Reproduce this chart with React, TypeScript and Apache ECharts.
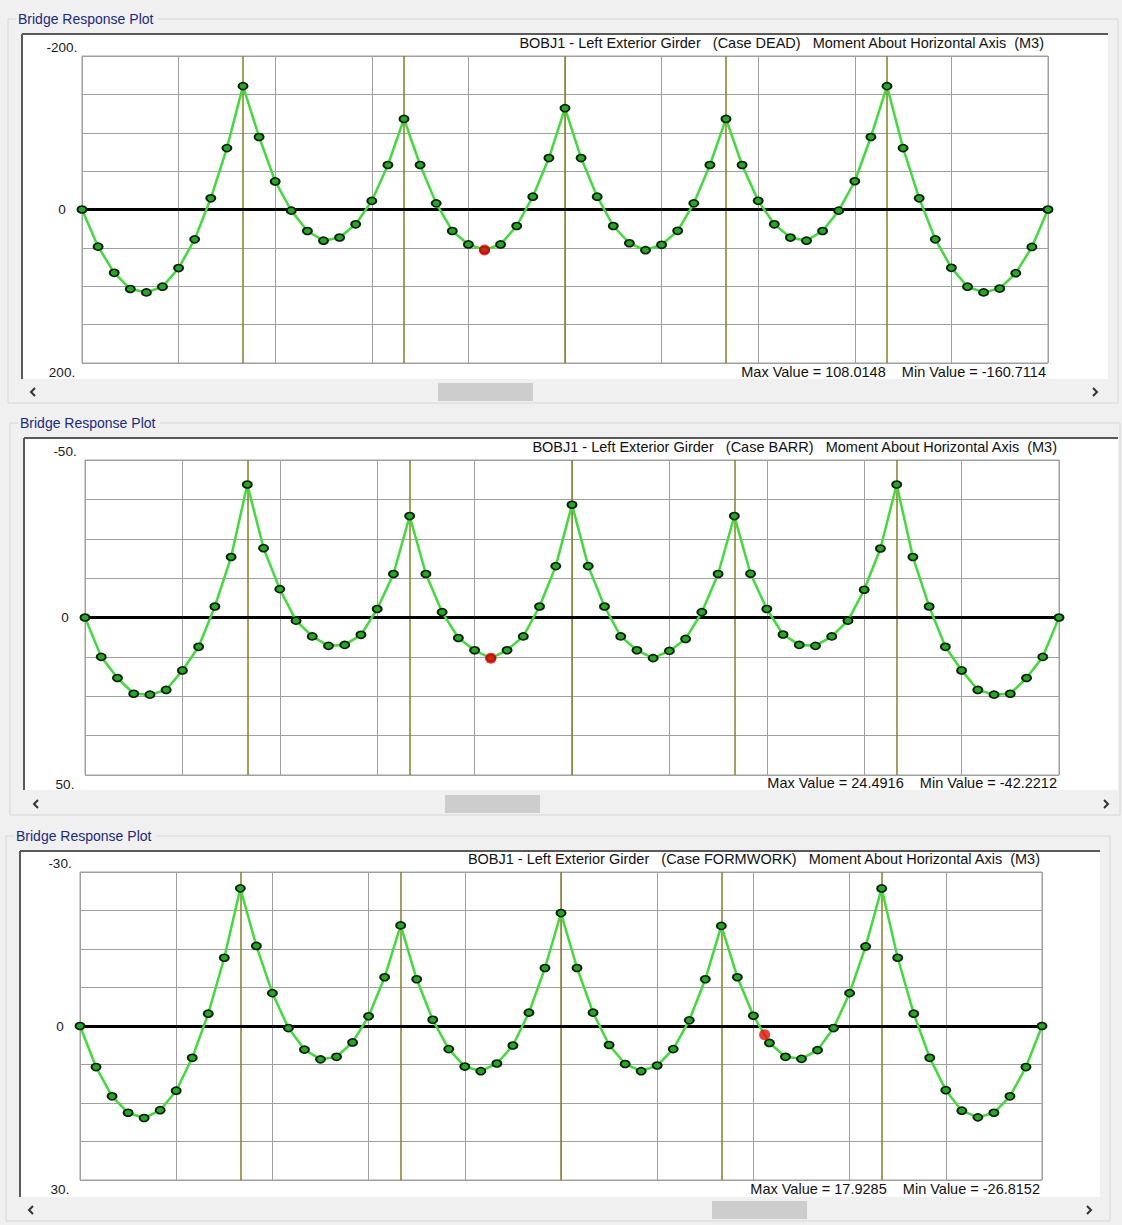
import React, { useEffect, useRef } from "react";
import * as echarts from "echarts";

// ---------- DATA ----------
// stations along girder: 6 spans x 10 segments = 61 output stations (index 0..60)
const supportStations = [10, 20, 30, 40, 50];

const deadMoment = [
  0, 48.4, 82.5, 103.6, 108.0148, 100.6, 76.3, 38.9, -14.6, -80, -160.7114,
  -94.5, -36.6, 1.5, 28, 40.6, 36.5, 19.3, -11.2, -58, -118,
  -58, -8, 28, 45.5, 52.8, 45.5, 21.5, -16.7, -67, -132,
  -67, -16.7, 21.5, 44, 53, 46, 27.8, -8, -58, -118,
  -58, -11.3, 19.3, 36.6, 40.6, 28, 1.5, -36.8, -94.5, -160.7114,
  -80, -14.6, 38.9, 76, 100.6, 108.0, 103, 83, 48.8, 0,
];

const barrMoment = [
  0, 12.5, 19.2, 24.2, 24.4916, 23.0, 16.8, 9.3, -3.5, -19.2, -42.2212,
  -22, -9, 1.0, 6.0, 9.0, 8.7, 5.5, -2.7, -13.8, -32.2,
  -13.8, -1.7, 6.5, 10.4, 12.9, 10.4, 6.0, -3.5, -16.3, -35.8,
  -16.3, -3.5, 6.0, 10.4, 12.9, 10.6, 6.8, -1.7, -13.8, -32.2,
  -13.9, -2.7, 5.4, 8.7, 9.0, 6.0, 1.0, -8.8, -21.9, -42.2212,
  -19.2, -3.5, 9.3, 16.8, 23.0, 24.49, 24.2, 19.2, 12.5, 0,
];

const formworkMoment = [
  0, 8.0, 13.7, 16.9, 17.9285, 16.4, 12.6, 6.2, -2.4, -13.3, -26.8152,
  -15.6, -6.4, 0.4, 4.6, 6.5, 6.0, 3.2, -1.9, -9.5, -19.6,
  -9.1, -1.2, 4.5, 7.9, 8.8, 7.3, 3.8, -2.6, -11.3, -22.0,
  -11.3, -2.6, 3.7, 7.4, 8.8, 7.7, 4.5, -1.1, -9.1, -19.5,
  -9.5, -2.0, 3.3, 6.0, 6.4, 4.7, 0.4, -6.4, -15.5, -26.8,
  -13.3, -2.4, 6.2, 12.5, 16.5, 17.8, 16.9, 13.7, 8.0, 0,
];

const panelValues = [deadMoment, barrMoment, formworkMoment];

const yLimits = [200, 50, 30];
const yTickLabels = [
  ["-200.", "0", "200."],
  ["-50.", "0", "50."],
  ["-30.", "0", "30."],
];

const panelTitles = [
  "BOBJ1 - Left Exterior Girder \u00a0 (Case DEAD) \u00a0 Moment About Horizontal Axis \u00a0(M3)",
  "BOBJ1 - Left Exterior Girder \u00a0 (Case BARR) \u00a0 Moment About Horizontal Axis \u00a0(M3)",
  "BOBJ1 - Left Exterior Girder \u00a0 (Case FORMWORK) \u00a0 Moment About Horizontal Axis \u00a0(M3)",
];

const panelFooters = [
  "Max Value = 108.0148 \u00a0 \u00a0Min Value = -160.7114",
  "Max Value = 24.4916 \u00a0 \u00a0Min Value = -42.2212",
  "Max Value = 17.9285 \u00a0 \u00a0Min Value = -26.8152",
];

const groupLabel = "Bridge Response Plot";

// red cursor markers
const markerStations = [25, 25, 42.7];
const markerValues = [52.8, 12.9, 1.7];

// ---------- LAYOUT ----------
const W = 1122;
const H = 1225;
const FONT = '"Liberation Sans", Arial, sans-serif';

const layouts = [
  {
    left: 82, top: 56, width: 966, height: 307,
    frameX: 22, frameY: 34, frameR: 1108, frameB: 379,
    labelX: 18, labelY: 19, boxL: 8, boxR: 1118,
    scrollY: 381, thumbX: 438, arrowL: 32, arrowR: 1096,
    titleY: 43, footY: 372, titleRight: 1044, footRight: 1046,
  },
  {
    left: 85, top: 460, width: 974, height: 315,
    frameX: 24, frameY: 438, frameR: 1118, frameB: 790,
    labelX: 20, labelY: 423, boxL: 10, boxR: 1120,
    scrollY: 793, thumbX: 445, arrowL: 35, arrowR: 1107,
    titleY: 447, footY: 783, titleRight: 1057, footRight: 1057,
  },
  {
    left: 80, top: 872, width: 962, height: 308,
    frameX: 20, frameY: 851, frameR: 1100, frameB: 1197,
    labelX: 16, labelY: 836, boxL: 6, boxR: 1110,
    scrollY: 1199, thumbX: 712, arrowL: 30, arrowR: 1090,
    titleY: 859, footY: 1189, titleRight: 1040, footRight: 1040,
  },
];

function buildOption() {
  const grid = layouts.map((l) => ({
    left: l.left,
    top: l.top,
    width: l.width,
    height: l.height,
    show: false,
    containLabel: false,
  }));

  const xAxis = layouts.map((_, i) => ({
    gridIndex: i,
    type: "value",
    min: 0,
    max: 60,
    interval: 6,
    axisLabel: { show: false },
    axisTick: { show: false },
    axisLine: { show: false },
    splitLine: { show: true, lineStyle: { color: "#a0a0a0", width: 1 } },
  }));

  const yAxis = layouts.map((_, i) => {
    const lim = yLimits[i];
    const labels = yTickLabels[i];
    const base = { fontSize: 13.5, color: "#1a1a1a", fontFamily: FONT, align: "center" };
    return {
      gridIndex: i,
      type: "value",
      inverse: true,
      min: -lim,
      max: lim,
      interval: lim / 4,
      axisLine: { show: false },
      axisTick: { show: false },
      splitLine: { show: true, lineStyle: { color: "#a0a0a0", width: 1 } },
      axisLabel: {
        show: true,
        showMinLabel: true,
        showMaxLabel: true,
        margin: 20,
        align: "center",
        fontSize: 13.5,
        color: "#1a1a1a",
        fontFamily: FONT,
        formatter: (v: number) => {
          if (v === -lim) return `{top|${labels[0]}}`;
          if (v === 0) return `{mid|${labels[1]}}`;
          if (v === lim) return `{bot|${labels[2]}}`;
          return "";
        },
        rich: {
          top: { ...base, padding: [0, 0, 18, 0] },
          mid: { ...base },
          bot: { ...base, padding: [18, 0, 0, 0] },
        },
      },
    };
  });

  const series: any[] = [];
  panelValues.forEach((vals, i) => {
    series.push({
      type: "line",
      xAxisIndex: i,
      yAxisIndex: i,
      data: vals.map((v, k) => [k, v]),
      z: 3,
      silent: true,
      symbol: "circle",
      symbolSize: [9, 7],
      showAllSymbol: true,
      lineStyle: { color: "#3fdc3a", width: 2.5 },
      itemStyle: { color: "#26a826", borderColor: "#072207", borderWidth: 1.8 },
      markLine: {
        silent: true,
        z: 1,
        symbol: ["none", "none"],
        label: { show: false },
        animation: false,
        data: [
          ...supportStations.map((s) => ({
            xAxis: s,
            lineStyle: { color: "#878020", width: 1.5, type: "solid" },
          })),
          { yAxis: 0, lineStyle: { color: "#000", width: 3, type: "solid" } },
        ],
      },
    });
    series.push({
      type: "scatter",
      xAxisIndex: i,
      yAxisIndex: i,
      z: 4,
      silent: true,
      symbol: "circle",
      symbolSize: 11,
      itemStyle: { color: "#ee0b0b" },
      data: [[markerStations[i], markerValues[i]]],
    });
  });

  const graphic: any[] = [];
  layouts.forEach((l, i) => {
    // group box
    graphic.push({
      type: "rect",
      z: -20,
      silent: true,
      shape: { x: l.boxL, y: l.labelY, width: l.boxR - l.boxL, height: l.scrollY + 22 - l.labelY },
      style: { fill: "none", stroke: "#d6d6d6", lineWidth: 1 },
    });
    graphic.push({
      type: "rect",
      z: -19,
      silent: true,
      shape: { x: l.labelX - 2, y: l.labelY - 8, width: 142, height: 16 },
      style: { fill: "#f0f0f0" },
    });
    graphic.push({
      type: "text",
      z: 10,
      silent: true,
      style: {
        text: groupLabel,
        x: l.labelX,
        y: l.labelY,
        fill: "#1a2a7c",
        fontSize: 14,
        fontFamily: FONT,
        align: "left",
        verticalAlign: "middle",
      },
    });
    // white plot frame
    graphic.push({
      type: "rect",
      z: -10,
      silent: true,
      shape: { x: l.frameX, y: l.frameY, width: l.frameR - l.frameX, height: l.frameB - l.frameY },
      style: { fill: "#ffffff" },
    });
    graphic.push({
      type: "line",
      z: -9,
      silent: true,
      shape: { x1: l.frameX, y1: l.frameY, x2: l.frameR, y2: l.frameY },
      style: { stroke: "#5a5a5a", lineWidth: 2 },
    });
    graphic.push({
      type: "line",
      z: -9,
      silent: true,
      shape: { x1: l.frameX, y1: l.frameY, x2: l.frameX, y2: l.frameB },
      style: { stroke: "#5a5a5a", lineWidth: 2 },
    });
    // plot box border
    graphic.push({
      type: "rect",
      z: -1,
      silent: true,
      shape: { x: l.left, y: l.top, width: l.width, height: l.height },
      style: { fill: "none", stroke: "#a0a0a0", lineWidth: 1 },
    });
    // title and footer
    graphic.push({
      type: "text",
      z: 10,
      silent: true,
      style: {
        text: panelTitles[i],
        x: l.titleRight,
        y: l.titleY,
        fill: "#111",
        fontSize: 14.5,
        fontFamily: FONT,
        align: "right",
        verticalAlign: "middle",
      },
    });
    graphic.push({
      type: "text",
      z: 10,
      silent: true,
      style: {
        text: panelFooters[i],
        x: l.footRight,
        y: l.footY,
        fill: "#111",
        fontSize: 14.5,
        fontFamily: FONT,
        align: "right",
        verticalAlign: "middle",
      },
    });
    // scrollbar
    graphic.push({
      type: "rect",
      z: -5,
      silent: true,
      shape: { x: l.thumbX, y: l.scrollY + 2, width: 95, height: 18 },
      style: { fill: "#cdcdcd" },
    });
    const cy = l.scrollY + 11;
    graphic.push({
      type: "polyline",
      z: 5,
      silent: true,
      shape: { points: [[l.arrowL + 3, cy - 4], [l.arrowL - 1, cy], [l.arrowL + 3, cy + 4]] },
      style: { stroke: "#333", lineWidth: 2, fill: "none" },
    });
    graphic.push({
      type: "polyline",
      z: 5,
      silent: true,
      shape: { points: [[l.arrowR - 3, cy - 4], [l.arrowR + 1, cy], [l.arrowR - 3, cy + 4]] },
      style: { stroke: "#333", lineWidth: 2, fill: "none" },
    });
  });

  return {
    animation: false,
    backgroundColor: "#f0f0f0",
    grid,
    xAxis,
    yAxis,
    series,
    graphic,
  };
}

export default function App() {
  const ref = useRef<HTMLDivElement>(null);
  useEffect(() => {
    if (!ref.current) return;
    const chart = echarts.init(ref.current, null, { renderer: "svg", width: W, height: H });
    chart.setOption(buildOption() as any);
    return () => chart.dispose();
  }, []);
  return (
    <div
      ref={ref}
      style={{ position: "absolute", left: 0, top: 0, width: W, height: H }}
    />
  );
}
